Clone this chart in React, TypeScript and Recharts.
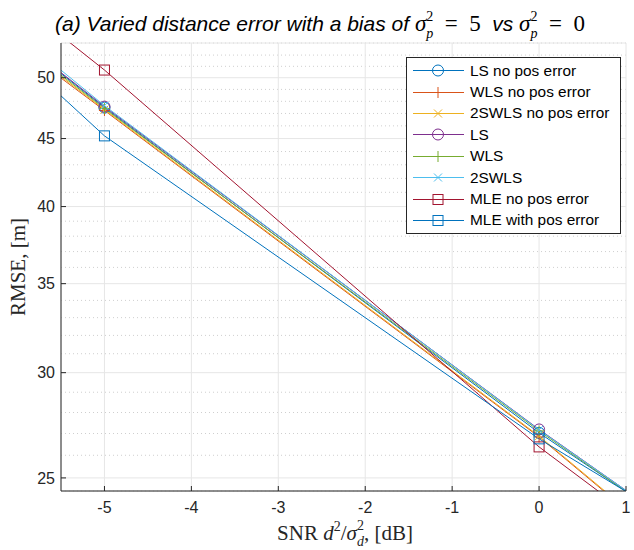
import React from 'react';
import { LineChart, Line, XAxis, YAxis, CartesianGrid, Legend } from 'recharts';

// SNR points (dB); only -5 and 0 fall inside the visible window
const snr = [-10, -5, 0, 5];

const lsNoPos = [85.6, 47.48, 27.03, 16.27];
const wlsNoPos = [82.9, 47.24, 26.84, 14.3];
const swlsNoPos = [83.8, 47.32, 26.88, 14.33];
const ls = [85.7, 47.56, 27.19, 16.03];
const wls = [84.7, 47.4, 27.12, 16.05];
const swls = [88.1, 47.64, 27.17, 16.07];
const mleNoPos = [92.1, 50.67, 26.38, 15.03];
const mleWithPos = [90.4, 45.21, 26.75, 16.96];

const xTicks = [-5, -4, -3, -2, -1, 0, 1];
const yTicks = [25, 30, 35, 40, 45, 50];
const yMinorTicks = [26, 27, 28, 29, 31, 32, 33, 34, 36, 37, 38, 39, 41, 42, 43, 44, 46, 47, 48, 49, 51, 52];

const series = [
  { key: 'lsNoPos', name: 'LS no pos error', color: '#0072BD', marker: 'o', values: lsNoPos },
  { key: 'wlsNoPos', name: 'WLS no pos error', color: '#D95319', marker: '+', values: wlsNoPos },
  { key: 'swlsNoPos', name: '2SWLS no pos error', color: '#EDB120', marker: 'x', values: swlsNoPos },
  { key: 'ls', name: 'LS', color: '#7E2F8E', marker: 'o', values: ls },
  { key: 'wls', name: 'WLS', color: '#77AC30', marker: '+', values: wls },
  { key: 'swls', name: '2SWLS', color: '#4DBEEE', marker: 'x', values: swls },
  { key: 'mleNoPos', name: 'MLE no pos error', color: '#A2142F', marker: 's', values: mleNoPos },
  { key: 'mleWithPos', name: 'MLE with pos error', color: '#0072BD', marker: 's', values: mleWithPos },
];

const data = snr.map((x, i) => {
  const row: any = { snr: x };
  series.forEach((s) => (row[s.key] = s.values[i]));
  return row;
});

const AXIS = '#262626';
const SANS = '"Liberation Sans", Arial, Helvetica, sans-serif';
const SERIF = '"Liberation Serif", "DejaVu Serif", serif';

function Marker({ cx, cy, shape, color }: any) {
  if (cx == null || cy == null) return null;
  const r = 5.5;
  if (shape === 'o') return <circle cx={cx} cy={cy} r={r} fill="none" stroke={color} strokeWidth={1} />;
  if (shape === '+')
    return <path d={`M${cx - r},${cy}H${cx + r}M${cx},${cy - r}V${cy + r}`} stroke={color} strokeWidth={1} fill="none" />;
  if (shape === 'x')
    return (
      <path
        d={`M${cx - 4},${cy - 4}L${cx + 4},${cy + 4}M${cx - 4},${cy + 4}L${cx + 4},${cy - 4}`}
        stroke={color}
        strokeWidth={1}
        fill="none"
      />
    );
  return <rect x={cx - 5} y={cy - 5} width={10} height={10} fill="none" stroke={color} strokeWidth={1} />;
}

function renderLegend() {
  return (
    <div
      style={{
        width: 213,
        height: 173,
        paddingTop: 2,
        border: `1px solid ${AXIS}`,
        background: '#fff',
      }}
    >
      {series.map((s) => (
        <div key={s.key} style={{ height: 21.4, display: 'flex', alignItems: 'center' }}>
          <svg width={63} height={21} style={{ display: 'block' }}>
            <line x1={6} x2={57} y1={10.5} y2={10.5} stroke={s.color} strokeWidth={1} />
            <Marker cx={31} cy={10.5} shape={s.marker} color={s.color} />
          </svg>
          <span style={{ fontSize: 15.4, fontFamily: SANS, color: '#000', whiteSpace: 'nowrap' }}>{s.name}</span>
        </div>
      ))}
    </div>
  );
}

const blank = () => '';

export default function App() {
  return (
    <div style={{ position: 'absolute', left: 0, top: 0, width: 634, height: 550, background: '#fff' }}>
      <LineChart width={634} height={550} data={data} margin={{ top: 43, right: 8, bottom: 0, left: 0 }}>
        <CartesianGrid yAxisId="minor" vertical={false} stroke="#cfcfcf" strokeDasharray="1 3" />
        <CartesianGrid stroke="#e6e6e6" />
        <XAxis
          dataKey="snr"
          type="number"
          domain={[-5.5, 1]}
          ticks={xTicks}
          interval={0}
          allowDataOverflow
          height={59}
          tickSize={-5}
          tickMargin={16}
          axisLine={{ stroke: AXIS }}
          tickLine={{ stroke: AXIS }}
          tick={{ fill: AXIS, fontSize: 16, fontFamily: SANS }}
        />
        <XAxis
          xAxisId="top"
          orientation="top"
          dataKey="snr"
          type="number"
          domain={[-5.5, 1]}
          ticks={xTicks}
          interval={0}
          allowDataOverflow
          height={0}
          tickSize={-5}
          tickFormatter={blank}
          axisLine={{ stroke: AXIS }}
          tickLine={{ stroke: AXIS }}
        />
        <YAxis
          scale="log"
          type="number"
          domain={[24.44, 53.1]}
          ticks={yTicks}
          interval={0}
          allowDataOverflow
          width={61}
          tickSize={-5}
          tickMargin={11}
          axisLine={{ stroke: AXIS }}
          tickLine={{ stroke: AXIS }}
          tick={{ fill: AXIS, fontSize: 16, fontFamily: SANS }}
        />
        <YAxis
          yAxisId="minor"
          scale="log"
          type="number"
          domain={[24.44, 53.1]}
          ticks={yMinorTicks}
          interval={0}
          allowDataOverflow
          width={0}
          tickSize={-3}
          tickFormatter={blank}
          axisLine={false}
          tickLine={{ stroke: AXIS }}
        />
        <YAxis
          yAxisId="right"
          orientation="right"
          scale="log"
          type="number"
          domain={[24.44, 53.1]}
          ticks={yTicks}
          interval={0}
          allowDataOverflow
          width={0}
          tickSize={-5}
          tickFormatter={blank}
          axisLine={{ stroke: AXIS }}
          tickLine={{ stroke: AXIS }}
        />
        <YAxis
          yAxisId="rightMinor"
          orientation="right"
          scale="log"
          type="number"
          domain={[24.44, 53.1]}
          ticks={yMinorTicks}
          interval={0}
          allowDataOverflow
          width={0}
          tickSize={-3}
          tickFormatter={blank}
          axisLine={false}
          tickLine={{ stroke: AXIS }}
        />
        {series.map((s) => (
          <Line
            key={s.key}
            dataKey={s.key}
            name={s.name}
            stroke={s.color}
            strokeWidth={1}
            isAnimationActive={false}
            dot={(p: any) => <Marker key={`${s.key}-${p.index}`} cx={p.cx} cy={p.cy} shape={s.marker} color={s.color} />}
            activeDot={false}
          />
        ))}
        <Legend
          layout="vertical"
          align="center"
          verticalAlign="middle"
          content={renderLegend}
          wrapperStyle={{ position: 'absolute', left: 406, top: 57, width: 'auto', height: 'auto' }}
        />
      </LineChart>
      <svg
        width={634}
        height={550}
        style={{ position: 'absolute', left: 0, top: 0, pointerEvents: 'none' }}
      >
        <text x={55} y={31} fontSize={21} fontFamily={SANS} fontStyle="italic" fill="#000">
          (a) Varied distance error with a bias of{' '}
          <tspan fontFamily={SERIF} fontSize={23}>σ</tspan>
          <tspan fontFamily={SERIF} fontSize={14} dy={7}>p</tspan>
          <tspan fontFamily={SERIF} fontSize={14} fontStyle="normal" dx={-7} dy={-17}>2</tspan>
          <tspan fontFamily={SERIF} fontSize={23} fontStyle="normal" dy={10}>{'\u2002=\u20025\u2002'}</tspan>
          <tspan>vs </tspan>
          <tspan fontFamily={SERIF} fontSize={23}>σ</tspan>
          <tspan fontFamily={SERIF} fontSize={14} dy={7}>p</tspan>
          <tspan fontFamily={SERIF} fontSize={14} fontStyle="normal" dx={-7} dy={-17}>2</tspan>
          <tspan fontFamily={SERIF} fontSize={23} fontStyle="normal" dy={10}>{'\u2002=\u20020'}</tspan>
        </text>
        <text x={345} y={540} textAnchor="middle" fontSize={21} fontFamily={SERIF} fill={AXIS}>
          SNR <tspan fontStyle="italic">d</tspan>
          <tspan fontSize={14} dy={-9}>2</tspan>
          <tspan dy={9}>/</tspan>
          <tspan fontStyle="italic">σ</tspan>
          <tspan fontSize={14} fontStyle="italic" dy={6}>d</tspan>
          <tspan fontSize={14} dx={-7} dy={-16}>2</tspan>
          <tspan dy={10}>, [dB]</tspan>
        </text>
        <text
          x={0}
          y={0}
          transform="translate(25,267) rotate(-90)"
          textAnchor="middle"
          fontSize={21}
          fontFamily={SERIF}
          fill={AXIS}
        >
          RMSE, [m]
        </text>
      </svg>
    </div>
  );
}
